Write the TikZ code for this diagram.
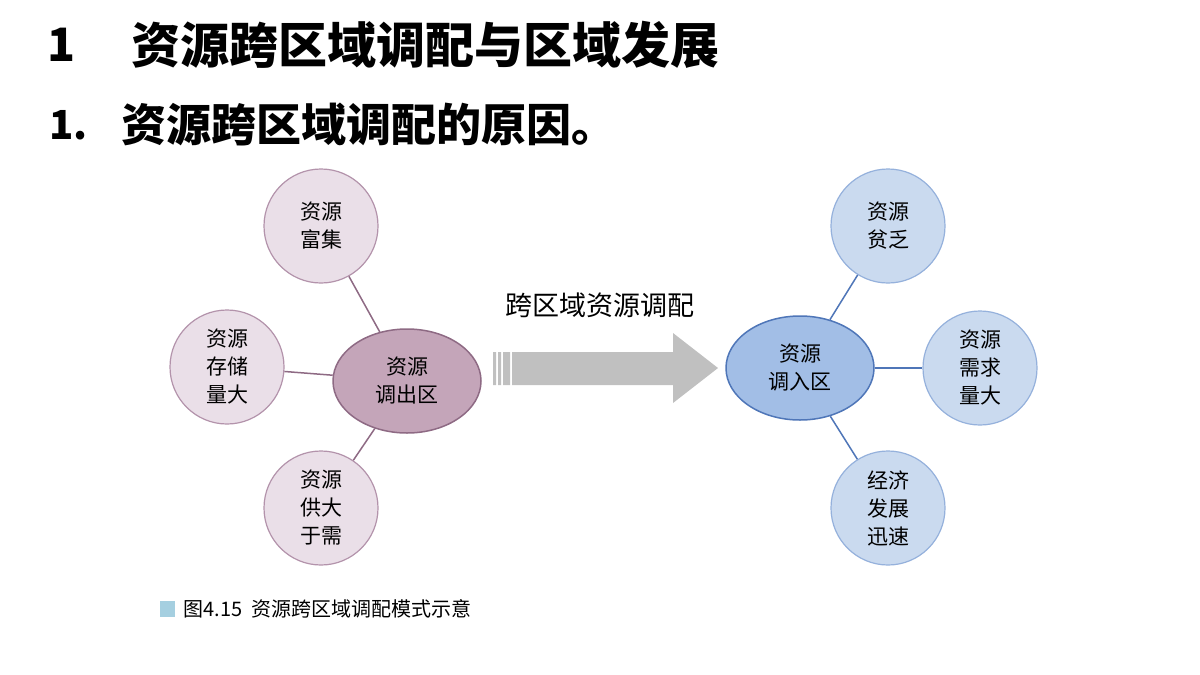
\documentclass[tikz,border=0pt]{standalone}
\usepackage{fontspec}
\setmainfont{Noto Sans CJK SC}
\usetikzlibrary{shapes}
\definecolor{outfill}{HTML}{EADFE8}
\definecolor{outline}{HTML}{B393AB}
\definecolor{outcore}{HTML}{C4A5B9}
\definecolor{outedge}{HTML}{8E6A84}
\definecolor{infill}{HTML}{CADAEF}
\definecolor{inline}{HTML}{95B1DC}
\definecolor{incore}{HTML}{A2BEE6}
\definecolor{inedge}{HTML}{4F76B8}
\definecolor{arrowgray}{HTML}{C0C0C0}
\definecolor{capblue}{HTML}{A5CFE0}
\tikzset{
  txt/.style={font=\fontsize{21}{28}\selectfont,align=center,inner sep=0pt},
  outc/.style={circle,minimum size=114pt,fill=outfill,draw=outline,line width=1.2pt,txt},
  inc/.style={circle,minimum size=114pt,fill=infill,draw=inline,line width=1.2pt,txt},
  outo/.style={ellipse,minimum width=148pt,minimum height=104pt,fill=outcore,draw=outedge,line width=1.5pt,txt},
  ino/.style={ellipse,minimum width=148pt,minimum height=104pt,fill=incore,draw=inedge,line width=1.5pt,txt}
}
\begin{document}
\begin{tikzpicture}[x=1pt,y=-1pt]
\useasboundingbox (0,0) rectangle (1200,675);
\fill[white] (0,0) rectangle (1200,675);
% titles
\node[anchor=west,font=\fontsize{46}{52}\selectfont\bfseries] (t1) at (44,45) {1};
\node[anchor=west,font=\fontsize{49}{54}\selectfont\bfseries] (t1b) at (128,45) {资源跨区域调配与区域发展};
\node[anchor=west,font=\fontsize{40}{46}\selectfont\bfseries] (t2) at (46,125) {1.};
\node[anchor=west,font=\fontsize{45}{50}\selectfont\bfseries] (t2b) at (118,125) {资源跨区域调配的原因。};
% export side
\node[outo] (out) at (407,381) {资源\\调出区};
\node[outc] (o1) at (321,226) {资源\\富集};
\node[outc] (o2) at (227,367) {资源\\存储\\量大};
\node[outc] (o3) at (321,508) {资源\\供大\\于需};
\draw[outedge,line width=1.5pt] (out) -- (o1);
\draw[outedge,line width=1.5pt] (out) -- (o2);
\draw[outedge,line width=1.5pt] (out) -- (o3);
% import side
\node[ino] (in) at (800,368) {资源\\调入区};
\node[inc] (i1) at (888,226) {资源\\贫乏};
\node[inc] (i2) at (980,368) {资源\\需求\\量大};
\node[inc] (i3) at (888,508) {经济\\发展\\迅速};
\draw[inedge,line width=1.5pt] (in) -- (i1);
\draw[inedge,line width=1.5pt] (in) -- (i2);
\draw[inedge,line width=1.5pt] (in) -- (i3);
% arrow
\fill[arrowgray] (493,352) rectangle (496,385) (498,352) rectangle (501,385) (503,352) rectangle (510,385);
\fill[arrowgray] (512,352) -- (673,352) -- (673,333) -- (718,368) -- (673,403) -- (673,385) -- (512,385) -- cycle;
\node[font=\fontsize{27}{32}\selectfont] (lab) at (600,305) {跨区域资源调配};
% caption
\fill[capblue] (160,601) rectangle (175,617);
\node[anchor=west,font=\fontsize{20}{24}\selectfont] (cap) at (180,609) {图4.15\ \ 资源跨区域调配模式示意};
\end{tikzpicture}
\end{document}
